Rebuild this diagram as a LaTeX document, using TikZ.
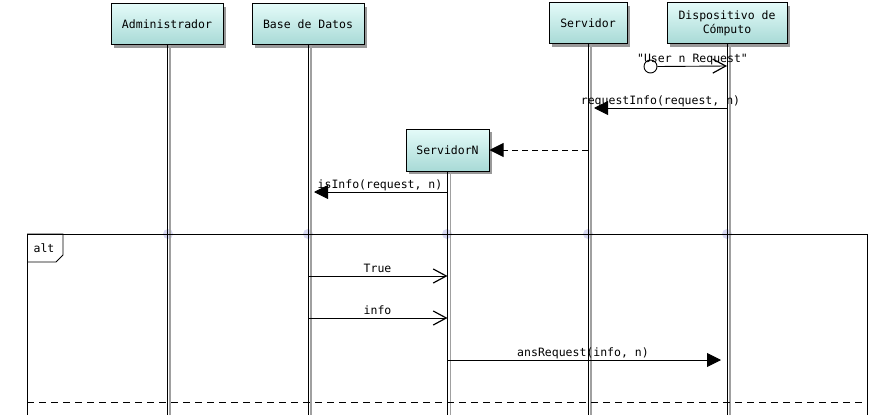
\documentclass[tikz,border=0pt]{standalone}
\usepackage{fontspec}
\setmonofont{DejaVu Sans Mono}
\usetikzlibrary{arrows.meta,shadows}
\definecolor{boxtop}{RGB}{228,251,249}
\definecolor{boxbot}{RGB}{168,218,214}
\definecolor{lav}{RGB}{216,216,242}
\definecolor{lifegraycol}{RGB}{160,160,160}
\begin{document}
\begin{tikzpicture}[x=1pt,y=-1pt]
\tikzset{
  actor/.style={draw=black, line width=1pt, top color=boxtop, bottom color=boxbot,
    minimum height=41pt, inner sep=0pt, align=center,
    font=\ttfamily\fontsize{11.5}{14}\selectfont,
    drop shadow={shadow xshift=3pt, shadow yshift=-3pt, fill=black!40, opacity=1}},
  lifeblack/.style={black, line width=0.9pt},
  lifegray/.style={lifegraycol, line width=1.1pt},
  msg/.style={line width=0.9pt},
  lbl/.style={font=\ttfamily\fontsize{11.5}{14}\selectfont, anchor=base, inner sep=0pt},
  openhead/.style={-{Straight Barb[length=13pt,width=14pt,line width=1.2pt]}},
  fillhead/.style={-{Triangle[length=14pt,width=14pt]}, shorten >=6pt},
  dot/.style={fill=lav, draw=none},
  framebox/.style={draw=black, line width=0.9pt},
}
\useasboundingbox (0,0) rectangle (889,415);
\fill[white] (0,0) rectangle (889,415);
\coordinate (bot) at (0,415);

% participants
\node[actor, minimum width=112pt] (adm) at (167,24) {Administrador};
\node[actor, minimum width=112pt] (bd) at (308,24) {Base de Datos};
\node[actor, minimum width=78pt] (srv) at (588,23) {Servidor};
\node[actor, minimum width=120pt] (disp) at (727,23) {Dispositivo de\\Cómputo};
\node[actor, minimum width=83pt, minimum height=42pt] (srvn) at (447.5,150) {ServidorN};

% frame crossing dots
\foreach \n/\xx in {d1/168,d2/308,d3/447,d4/588,d5/727}
  \fill[dot] (\xx,234) circle (5pt);

% lifelines
\foreach \p in {adm,bd,srv,disp,srvn}{
  \draw[lifeblack] (\p.south) -- (\p.south |- bot);
  \draw[lifegray] ([xshift=3pt]\p.south) -- ([xshift=3pt]\p.south |- bot);
}

% alt frame
\draw[framebox] (27,415) -- (27,234) -- (867,234) -- (867,415);
\node[inner sep=0pt] (tabtl) at (27,234) {};
\draw[framebox] (tabtl.center) -- (63,234) -- (63,255) -- (56,262) -- (27,262);
\node[lbl] (alttxt) at (44,252) {alt};
\draw[line width=0.9pt, dash pattern=on 7pt off 5pt] (27,402) -- (867,402);

% message coordinates
\coordinate (m1s) at (657,66);
\coordinate (m1e) at (disp.south |- m1s);
\coordinate (m2s) at (disp.south |- 0,108);
\coordinate (m2e) at (srv.south |- m2s);
\coordinate (m3s) at (srv.south |- 0,150);
\coordinate (m4s) at (srvn.south |- 0,192);
\coordinate (m4e) at (bd.south |- m4s);
\coordinate (m5s) at (bd.south |- 0,276);
\coordinate (m5e) at (srvn.south |- m5s);
\coordinate (m6s) at (bd.south |- 0,318);
\coordinate (m6e) at (srvn.south |- m6s);
\coordinate (m7s) at (srvn.south |- 0,360);
\coordinate (m7e) at (disp.south |- m7s);

% message 1: found message
\node[draw=black, line width=0.9pt, fill=white, circle, minimum size=13pt, inner sep=0pt] (m1c) at (650.5,66.5) {};
\draw[msg, openhead] (m1c.east) -- (m1e);
\node[lbl] (l1) at (692.5,62.5) {"User n Request"};

% message 2
\draw[msg, fillhead] (m2s) -- (m2e);
\node[lbl] (l2) at (660.5,104.5) {requestInfo(request, n)};

% message 3: create
\draw[msg, dash pattern=on 6pt off 4pt, -{Triangle[length=14pt,width=14pt]}] (m3s) -- (srvn.east);

% message 4
\draw[msg, fillhead] (m4s) -- (m4e);
\node[lbl] (l4) at (380,188.5) {isInfo(request, n)};

% message 5
\draw[msg, openhead] (m5s) -- (m5e);
\node[lbl] (l5) at (377.5,272.5) {True};

% message 6
\draw[msg, openhead] (m6s) -- (m6e);
\node[lbl] (l6) at (377.5,314.5) {info};

% message 7
\draw[msg, fillhead] (m7s) -- (m7e);
\node[lbl] (l7) at (583,356.5) {ansRequest(info, n)};
\end{tikzpicture}
\end{document}
